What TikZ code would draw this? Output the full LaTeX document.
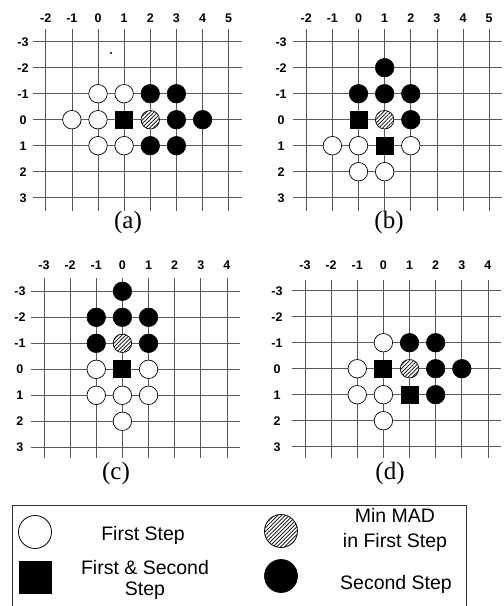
\documentclass[tikz,border=0pt]{standalone}
\usepackage{fontspec}
\setmainfont{Liberation Serif}
\setsansfont{Liberation Sans}
\usetikzlibrary{patterns.meta}
\tikzset{
  gridline/.style={draw=black!65, line width=0.7pt},
  axlabel/.style={font=\sffamily\bfseries\fontsize{12.5}{13}\selectfont, inner sep=0pt, anchor=base},
  mark base/.style={circle, minimum size=18.5pt, inner sep=0pt, line width=0.7pt},
  whitept/.style={mark base, draw=black, fill=white},
  blackpt/.style={mark base, draw=black, fill=black},
  hatchpt/.style={mark base, draw=black, preaction={fill=white},
    pattern={Lines[angle=45,distance=2.7pt,line width=0.7pt]}},
  sqpt/.style={rectangle, fill=black, minimum size=18pt, inner sep=0pt},
  panellabel/.style={font=\fontsize{25}{25}\selectfont, inner sep=0pt},
  legendtext/.style={font=\sffamily\fontsize{19.5}{25}\selectfont, align=center, inner sep=0pt},
}
\newcommand\gridpanel[7]{% #1 id, #2 first col, #3 last col, #4 row label x, #5 top, #6 bottom, #7 col label baseline y
  \foreach \r in {-3,...,3} \draw[gridline] (#2-0.5,\r) -- (#3+0.5,\r);
  \foreach \c in {#2,...,#3} \draw[gridline] (\c,#5) -- (\c,#6);
  \foreach \c in {#2,...,#3} \node[axlabel] (#1col\c) at (\c,#7) {\c};
  \foreach \r in {-3,...,3} \node[axlabel] (#1row\r) at (#4,\r+0.17) {\r};
}
\newcommand\putmarks[3]{% #1 id, #2 style, #3 list
  \foreach \i/\j in {#3} \node[#2] (#1m\i x\j) at (\i,\j) {};
}
\begin{document}
\begin{tikzpicture}[x=1pt,y=-1pt]
\useasboundingbox (0,0) rectangle (504,606);

% panel (a)
\begin{scope}[shift={(98,119.7)}, x=26.14pt, y=-26pt]
  \gridpanel{a}{-2}{5}{-2.87}{-3.5}{3.5}{-3.75}
  \putmarks{a}{whitept}{0/-1,1/-1,-1/0,0/0,0/1,1/1}
  \putmarks{a}{sqpt}{1/0}
  \putmarks{a}{hatchpt}{2/0}
  \putmarks{a}{blackpt}{2/-1,3/-1,3/0,4/0,2/1,3/1}
\end{scope}
\fill (111,53) circle (1.2pt);
\node[panellabel] (lbla) at (128,222) {(a)};

% panel (b)
\begin{scope}[shift={(358.5,119.7)}, x=26.14pt, y=-26pt]
  \gridpanel{b}{-2}{5}{-2.96}{-3.5}{3.5}{-3.75}
  \putmarks{b}{whitept}{-1/1,0/1,2/1,0/2,1/2}
  \putmarks{b}{sqpt}{0/0,1/1}
  \putmarks{b}{hatchpt}{1/0}
  \putmarks{b}{blackpt}{1/-2,0/-1,1/-1,2/-1,2/0}
\end{scope}
\node[panellabel] (lblb) at (389,222) {(b)};

% panel (c)
\begin{scope}[shift={(122.4,369.3)}, x=26.14pt, y=-26pt]
  \gridpanel{c}{-3}{4}{-3.92}{-3.5}{3.42}{-3.84}
  \putmarks{c}{whitept}{-1/0,1/0,-1/1,0/1,1/1,0/2}
  \putmarks{c}{sqpt}{0/0}
  \putmarks{c}{hatchpt}{0/-1}
  \putmarks{c}{blackpt}{0/-3,-1/-2,0/-2,1/-2,-1/-1,1/-1}
\end{scope}
\node[panellabel] (lblc) at (116,473) {(c)};

% panel (d)
\begin{scope}[shift={(383.4,368.7)}, x=26.14pt, y=-26pt]
  \gridpanel{d}{-3}{4}{-4.07}{-3.43}{3.42}{-3.81}
  \putmarks{d}{whitept}{0/-1,-1/0,-1/1,0/1,0/2}
  \putmarks{d}{sqpt}{0/0,1/1}
  \putmarks{d}{hatchpt}{1/0}
  \putmarks{d}{blackpt}{1/-1,2/-1,2/0,3/0,2/1}
\end{scope}
\node[panellabel] (lbld) at (390,473) {(d)};

% legend
\draw[line width=0.8pt, black!80] (12,606) -- (12,505) -- (466,505) -- (466,606);
\node[whitept, minimum size=33pt, line width=0.8pt] (lgw) at (35,532) {};
\node[legendtext] (lgwt) at (143,535) {First Step};
\node[hatchpt, minimum size=33pt, line width=0.8pt] (lgh) at (281,531) {};
\node[legendtext] (lght) at (395,530) {Min MAD\\in First Step};
\node[sqpt, minimum size=33pt] (lgs) at (35.5,577.5) {};
\node[legendtext, font=\sffamily\fontsize{19.5}{21}\selectfont] (lgst) at (145,580) {First \& Second\\Step};
\node[blackpt, minimum size=33pt] (lgb) at (281,576) {};
\node[legendtext] (lgbt) at (396,584) {Second Step};
\end{tikzpicture}
\end{document}
